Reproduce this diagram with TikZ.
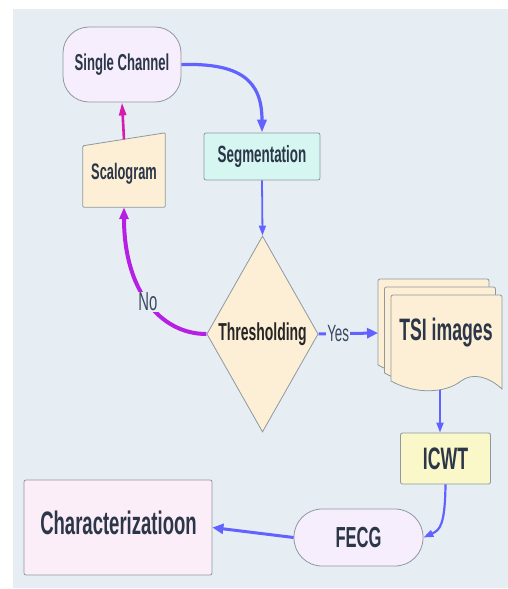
\documentclass[tikz,border=0pt]{standalone}
\usepackage{fontspec}
\setmainfont{Liberation Sans}[FakeStretch=0.57]
\usetikzlibrary{arrows.meta,shapes.geometric}
\definecolor{bgc}{HTML}{E6EEF4}
\definecolor{edgec}{HTML}{8E989E}
\definecolor{txtc}{HTML}{2B3648}
\definecolor{lblc}{HTML}{3A4860}
\definecolor{bluec}{HTML}{6262FF}
\definecolor{purc}{HTML}{B620E4}
\definecolor{magc}{HTML}{D81AAE}
\definecolor{lavc}{HTML}{F6EEFC}
\definecolor{mintc}{HTML}{D6F6F1}
\definecolor{peachc}{HTML}{FDEFD6}
\definecolor{yelc}{HTML}{FAF8C8}
\definecolor{pinkc}{HTML}{FCEEF8}
\tikzset{
  boxst/.style={draw=edgec, line width=0.8pt, text=txtc, font=\bfseries, inner sep=0pt},
  blueth/.style={draw=bluec, line width=3pt, -{Triangle[length=11pt,width=10pt]}},
  bluetn/.style={draw=bluec, line width=1.8pt, -{Triangle[length=10pt,width=7pt]}},
  lbl/.style={fill=bgc, text=lblc, inner sep=1pt}
}
\begin{document}
\begin{tikzpicture}[x=1pt,y=-1pt]
\useasboundingbox (0,0) rectangle (508,589);
\fill[bgc] (13,9) rectangle (508,588);

% nodes
\node[boxst, fill=lavc, rounded corners=26pt, minimum width=118pt, minimum height=75pt,
      font=\bfseries\fontsize{23}{26}\selectfont] (sc) at (122,64.5) {Single Channel};
\node[boxst, fill=mintc, rounded corners=2pt, minimum width=116pt, minimum height=47pt,
      font=\bfseries\fontsize{23.5}{26}\selectfont] (seg) at (262,156.5) {Segmentation};
\node[inner sep=0pt, minimum width=82pt, minimum height=74pt] (scal) at (124,170) {};
\fill[peachc, draw=edgec, line width=0.8pt, rounded corners=1pt]
  (scal.south west) -- ([yshift=-13pt]scal.north west) -- (scal.north east) -- (scal.south east) -- cycle;
\node[text=txtc, font=\bfseries\fontsize{22.5}{25}\selectfont] at ([yshift=-4pt]scal.center) {Scalogram};
\coordinate (scaltop) at ([yshift=-6.5pt]scal.north);

\node[boxst, diamond, fill=peachc, minimum width=107pt, minimum height=196pt, text=black!85,
      font=\bfseries\fontsize{24.5}{27}\selectfont] (thr) at (262.5,334) {Thresholding};

% TSI images (multi-document)
\foreach \ox/\oy in {378/279, 384.5/287, 391/295}{
  \begin{scope}[shift={(\ox,\oy)}]
    \fill[peachc, draw=edgec, line width=0.8pt]
      (0,86) -- (0,2) [rounded corners=2pt] -- (0,0) -- (111,0) [sharp corners] -- (111,94)
      .. controls (98,82) and (82,77) .. (70,86)
      .. controls (55,98) and (25,100) .. (0,86) -- cycle;
  \end{scope}
}
\node[text=txtc, font=\bfseries\fontsize{31}{34}\selectfont] (tsi) at (446,333) {TSI images};
\coordinate (tsiw) at (378,333);
\coordinate (tsib) at (440,390);

\node[boxst, fill=yelc, rounded corners=2pt, minimum width=90pt, minimum height=51pt,
      font=\bfseries\fontsize{31}{34}\selectfont] (icwt) at (445.5,458.5) {ICWT};
\node[boxst, fill=lavc, rounded corners=28pt, minimum width=129pt, minimum height=57pt,
      font=\bfseries\fontsize{29}{32}\selectfont] (fecg) at (358.5,537.5) {FECG};
\node[boxst, fill=pinkc, rounded corners=2pt, minimum width=188pt, minimum height=95pt,
      font=\bfseries\fontsize{32.5}{35}\selectfont] (char) at (118,527.5) {};
\node[text=txtc, font=\bfseries\fontsize{32.5}{35}\selectfont] at (118.5,523) {Characterizatioon};

% connectors
\draw[blueth, line width=3.2pt, -{Triangle[length=13pt,width=9pt]}]
  (sc.east) .. controls (240,63) and (262,80) .. (seg.north);
\draw[bluetn] (seg.south) -- (thr.north);
\draw[draw=purc, line width=4pt, -{Triangle[length=12pt,width=9pt]}]
  (thr.west) .. controls (160,334) and (124,290) .. (scal.south)
  node[pos=0.5, lbl, font=\fontsize{26}{28}\selectfont] {No};
\draw[draw=magc, line width=2.6pt, -{Triangle[length=13pt,width=7pt]}] (scaltop) -- (sc.south);
\draw[blueth] (thr.east) -- (tsiw)
  node[pos=0.33, lbl, font=\fontsize{23.5}{26}\selectfont] {Yes};
\draw[bluetn] (tsib) -- (tsib |- icwt.north);
\draw[bluetn, line width=2.2pt] (icwt.south) .. controls (445,525) and (440,530) .. (fecg.east);
\draw[blueth] (fecg.west) -- (char.east);
\end{tikzpicture}
\end{document}
